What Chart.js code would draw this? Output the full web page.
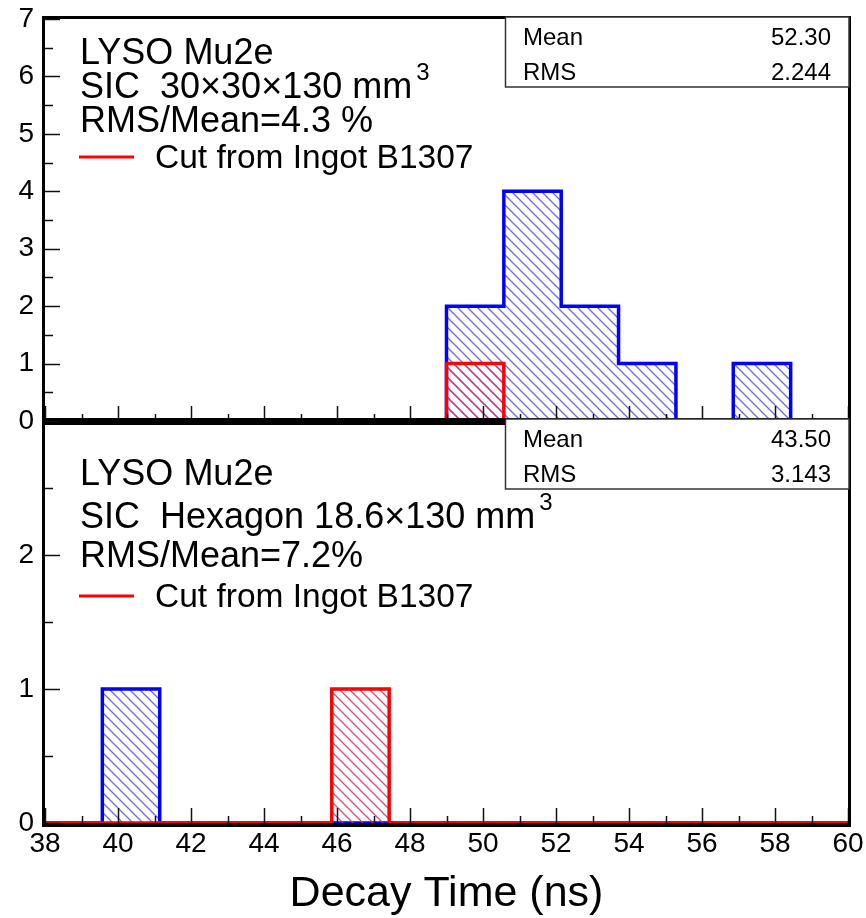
<!DOCTYPE html>
<html>
<head>
<meta charset="utf-8">
<script src="https://cdn.jsdelivr.net/npm/chart.js@4.4.1/dist/chart.umd.min.js"></script>
<style>
  body { margin: 0; background: #fff; }
  #wrap { position: relative; width: 866px; height: 918px; }
  #wrap canvas { position: absolute; left: 0; top: 0; }
</style>
</head>
<body>
<div id="wrap">
  <canvas id="topChart" width="866" height="918"></canvas>
  <canvas id="bottomChart" width="866" height="918"></canvas>
</div>
<script>
// 14 bins between 38 and 60 ns
const binEdges = [38, 39.571, 41.143, 42.714, 44.286, 45.857, 47.429, 49.0, 50.571, 52.143, 53.714, 55.286, 56.857, 58.429, 60];

// 30x30x130 crystals
const topAllCounts    = [0, 0, 0, 0, 0, 0, 0, 2, 4, 2, 1, 0, 1, 0];
const topIngotCounts  = [0, 0, 0, 0, 0, 0, 0, 1, 0, 0, 0, 0, 0, 0];
// hexagon crystals
const bottomAllCounts   = [0, 1, 0, 0, 0, 0, 0, 0, 0, 0, 0, 0, 0, 0];
const bottomIngotCounts = [0, 0, 0, 0, 0, 1, 0, 0, 0, 0, 0, 0, 0, 0];

const xTicks = [38, 40, 42, 44, 46, 48, 50, 52, 54, 56, 58, 60];
const topYTicks = [0, 1, 2, 3, 4, 5, 6, 7];
const bottomYTicks = [0, 1, 2];

const topText = ['LYSO Mu2e', 'SIC  30\u00d730\u00d7130 mm', 'RMS/Mean=4.3 %'];
const bottomText = ['LYSO Mu2e', 'SIC  Hexagon 18.6\u00d7130 mm', 'RMS/Mean=7.2%'];
const legendText = 'Cut from Ingot B1307';
const topStats = [['Mean', '52.30'], ['RMS', '2.244']];
const bottomStats = [['Mean', '43.50'], ['RMS', '3.143']];

const FONT = "'Liberation Sans', Arial, sans-serif";

// step outline for a histogram: hold each count across its bin
function histPoints(edges, counts) {
  const pts = [{ x: edges[0], y: 0 }];
  for (let i = 0; i < counts.length; i++) pts.push({ x: edges[i], y: counts[i] });
  pts.push({ x: edges[edges.length - 1], y: 0 });
  return pts;
}

// diagonal "\\\" hatching
function hatch(color) {
  const s = 10;
  const c = document.createElement('canvas');
  c.width = s; c.height = s;
  const g = c.getContext('2d');
  g.strokeStyle = color;
  g.lineWidth = 1.3;
  g.beginPath();
  g.moveTo(-2, -2); g.lineTo(s + 2, s + 2);
  g.moveTo(-2, s - 2); g.lineTo(2, s + 2);
  g.moveTo(s - 2, -2); g.lineTo(s + 2, 2);
  g.stroke();
  return g.createPattern(c, 'repeat');
}

const blueHatch = hatch('rgba(80,80,245,0.85)');
const redHatch = hatch('rgba(225,40,90,0.85)');

function histDataset(counts, color, pattern) {
  return {
    data: histPoints(binEdges, counts),
    stepped: true,
    borderColor: color,
    borderWidth: 3.5,
    borderJoinStyle: 'miter',
    backgroundColor: pattern,
    fill: 'origin',
    pointRadius: 0,
    tension: 0
  };
}

// frame, inward tick marks, text block, legend and stat box
const panelPlugin = {
  id: 'panel',
  afterDatasetsDraw(chart, args, opts) {
    const { ctx, chartArea: a, scales } = chart;
    const x = scales.x, y = scales.y;
    ctx.save();
    ctx.strokeStyle = '#111';
    ctx.lineWidth = 1.5;
    ctx.beginPath();
    for (let v = x.min; v <= x.max; v += 1) {
      const px = Math.round(x.getPixelForValue(v)) + 0.5;
      const len = xTicks.includes(v) ? 15 : 7;
      ctx.moveTo(px, a.bottom); ctx.lineTo(px, a.bottom - len);
    }
    for (let v = y.min; v <= y.max; v += 0.5) {
      const py = Math.round(y.getPixelForValue(v)) + 0.5;
      const len = opts.yMajor.includes(v) ? 15 : 8;
      ctx.moveTo(a.left, py); ctx.lineTo(a.left + len, py);
    }
    ctx.stroke();
    ctx.fillStyle = '#000';
    const w = a.right - a.left, h = a.bottom - a.top, t = 3;
    ctx.fillRect(a.left - t, a.top - t, w + 2 * t, t);
    ctx.fillRect(a.left - t, a.bottom, w + 2 * t, t + 1);
    ctx.fillRect(a.left - t, a.top - t, t, h + 2 * t);
    ctx.fillRect(a.right, a.top - t, t, h + 2 * t);
    ctx.restore();
  },
  afterDraw(chart, args, opts) {
    const { ctx, chartArea: a } = chart;
    ctx.save();
    ctx.fillStyle = '#000';
    ctx.textBaseline = 'alphabetic';
    ctx.textAlign = 'left';
    ctx.font = '36px ' + FONT;
    const tx = 80;
    opts.lines.forEach((s, i) => ctx.fillText(s, tx, opts.base[i]));
    const supX = tx + ctx.measureText(opts.lines[1]).width + 4;
    ctx.font = '24px ' + FONT;
    ctx.fillText('3', supX, opts.base[1] - 18);

    // legend entry
    ctx.strokeStyle = '#ff0000';
    ctx.lineWidth = 3;
    ctx.beginPath();
    ctx.moveTo(79, opts.legendY); ctx.lineTo(134, opts.legendY);
    ctx.stroke();
    ctx.font = '33.5px ' + FONT;
    ctx.fillText(legendText, 155, opts.legendY + 11);

    // statistics box
    const bx = 505.5, by = a.top - 2, bw = a.right + 1 - bx, bh = 70;
    ctx.fillStyle = '#fff';
    ctx.fillRect(bx, by, bw, bh);
    ctx.strokeStyle = '#333';
    ctx.lineWidth = 1.5;
    ctx.strokeRect(bx, by, bw, bh);
    ctx.fillStyle = '#000';
    ctx.font = '24px ' + FONT;
    opts.stats.forEach((row, i) => {
      const yy = by + 28 + i * 35;
      ctx.textAlign = 'left';
      ctx.fillText(row[0], 523, yy);
      ctx.textAlign = 'right';
      ctx.fillText(row[1], 831, yy);
    });
    ctx.restore();
  }
};

function yAxis(max, ticks) {
  return {
    type: 'linear',
    min: 0,
    max: max,
    afterBuildTicks: s => { s.ticks = ticks.map(v => ({ value: v })); },
    afterFit: s => { s.width = 45; s.paddingTop = 0; s.paddingBottom = 0; },
    grid: { display: false, drawTicks: false },
    border: { display: false },
    ticks: { color: '#000', padding: 11, font: { family: FONT, size: 28 } }
  };
}

const common = {
  responsive: false,
  animation: false,
  events: [],
  plugins: { legend: { display: false }, tooltip: { enabled: false } }
};

new Chart(document.getElementById('topChart'), {
  type: 'line',
  data: {
    datasets: [
      histDataset(topIngotCounts, '#ff0000', redHatch),
      histDataset(topAllCounts, '#0000ff', blueHatch)
    ]
  },
  plugins: [panelPlugin],
  options: {
    ...common,
    layout: { padding: { left: 0, top: 19, right: 18, bottom: 497 } },
    scales: {
      x: { type: 'linear', min: 38, max: 60, display: false },
      y: yAxis(7, topYTicks)
    },
    plugins: {
      ...common.plugins,
      panel: { yMajor: topYTicks, lines: topText, base: [64, 98, 132], legendY: 157, stats: topStats }
    }
  }
});

new Chart(document.getElementById('bottomChart'), {
  type: 'line',
  data: {
    datasets: [
      histDataset(bottomIngotCounts, '#ff0000', redHatch),
      histDataset(bottomAllCounts, '#0000ff', blueHatch)
    ]
  },
  plugins: [panelPlugin],
  options: {
    ...common,
    layout: { padding: { left: 0, top: 421, right: 18, bottom: 0 } },
    scales: {
      x: {
        type: 'linear',
        min: 38,
        max: 60,
        afterBuildTicks: s => { s.ticks = xTicks.map(v => ({ value: v })); },
        afterFit: s => { s.height = 95; s.paddingLeft = 0; s.paddingRight = 0; },
        grid: { display: false, drawTicks: false },
        border: { display: false },
        ticks: { color: '#000', padding: 4, maxRotation: 0, autoSkip: false, font: { family: FONT, size: 28 } },
        title: {
          display: true,
          text: 'Decay Time (ns)',
          color: '#000',
          font: { family: FONT, size: 43, lineHeight: 1.1 },
          padding: { top: 0, bottom: 0 }
        }
      },
      y: yAxis(3, bottomYTicks)
    },
    plugins: {
      ...common.plugins,
      panel: { yMajor: bottomYTicks.concat([3]), lines: bottomText, base: [485, 528, 567], legendY: 596, stats: bottomStats }
    }
  }
});
</script>
</body>
</html>
